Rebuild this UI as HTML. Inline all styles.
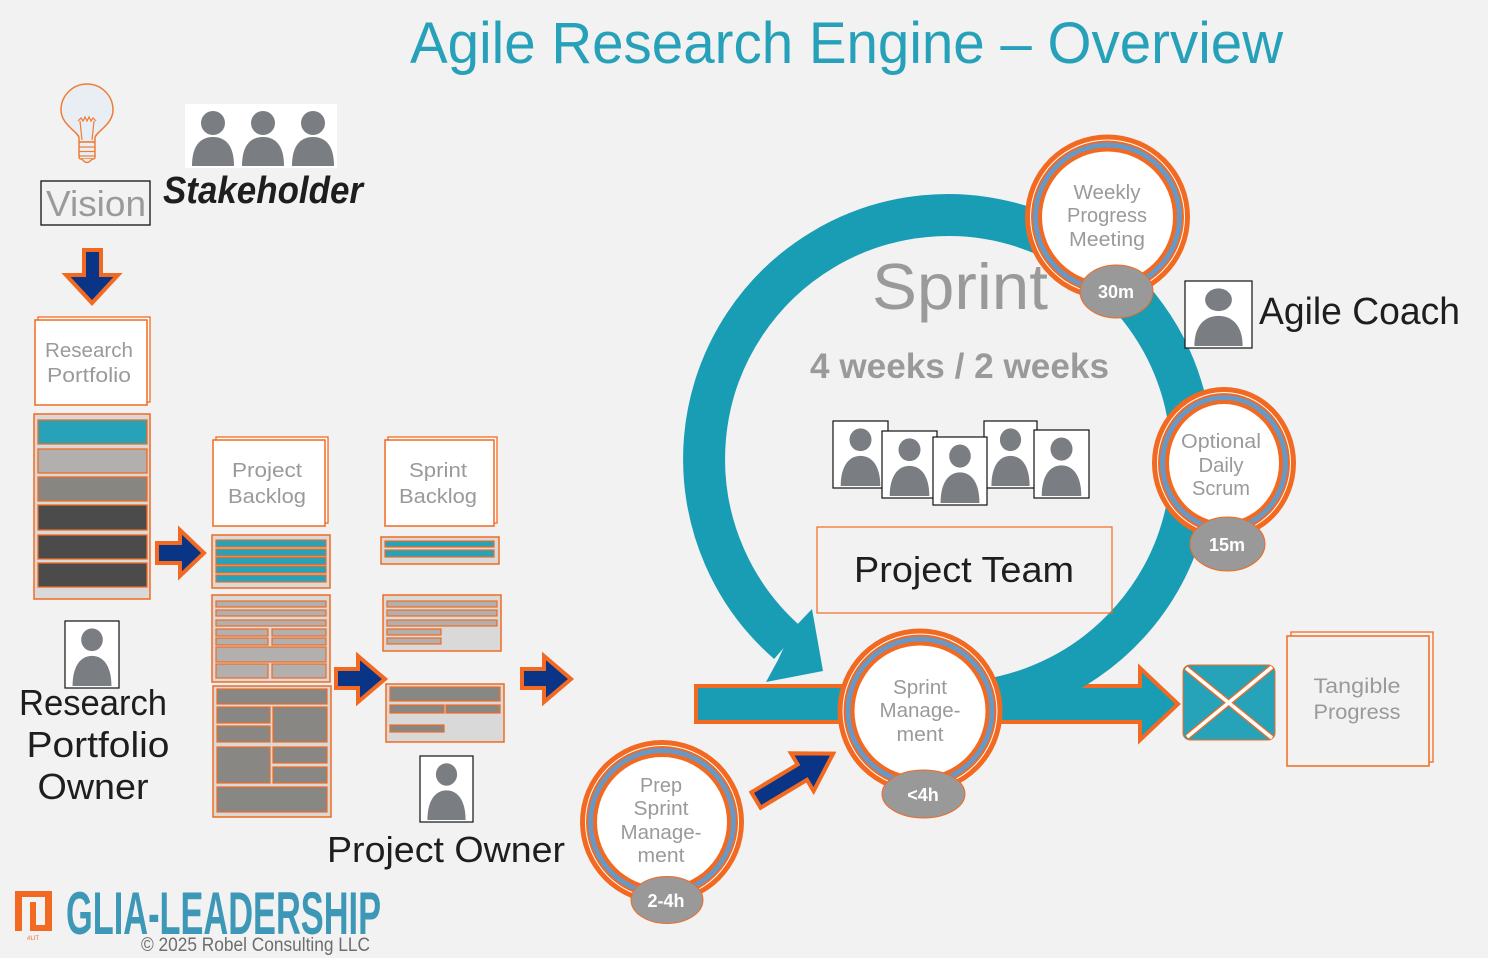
<!DOCTYPE html>
<html>
<head>
<meta charset="utf-8">
<style>
  html,body{margin:0;padding:0;background:#f2f2f2;}
  svg{display:block;}
  text{font-family:"Liberation Sans", sans-serif;}
</style>
</head>
<body>
<svg width="1488" height="958" viewBox="0 0 1488 958" xmlns="http://www.w3.org/2000/svg">
  <defs>
    <symbol id="pp" viewBox="0 0 100 100" preserveAspectRatio="none">
      <ellipse cx="50" cy="28" rx="20" ry="17" fill="#7a7d82"/>
      <path d="M14 97 C14 66 30 52 50 52 C70 52 86 66 86 97 Z" fill="#7a7d82"/>
    </symbol>
  </defs>

  <rect x="0" y="0" width="1488" height="958" fill="#f2f2f2"/>

  <!-- Title -->
  <text x="410" y="63" font-size="58" fill="#27a1b9" textLength="873" lengthAdjust="spacingAndGlyphs">Agile Research Engine – Overview</text>

  <!-- Lightbulb -->
  <path d="M79 142 L79 138 C79 132 61 125 61 110 A26 26 0 1 1 113 110 C113 125 95 132 95 138 L95 142 Z" fill="#e8eef4" stroke="#f07c35" stroke-width="1.5"/>
  <rect x="79" y="142" width="16" height="17" rx="2" fill="#e8eef4" stroke="#f07c35" stroke-width="1.5"/>
  <line x1="79" y1="147" x2="95" y2="147" stroke="#f07c35" stroke-width="1.2"/>
  <line x1="79" y1="151.5" x2="95" y2="151.5" stroke="#f07c35" stroke-width="1.2"/>
  <line x1="79" y1="156" x2="95" y2="156" stroke="#f07c35" stroke-width="1.2"/>
  <path d="M82 159 Q87 166 92 159" fill="#e8eef4" stroke="#f07c35" stroke-width="1.5"/>
  <polyline points="78,121 81,118 83,121 85,117 87,121 89,117 91,121 93,118 96,121" fill="none" stroke="#f07c35" stroke-width="1.2"/>
  <line x1="80" y1="121" x2="82" y2="140" stroke="#f07c35" stroke-width="1.2"/>
  <line x1="94" y1="121" x2="92" y2="140" stroke="#f07c35" stroke-width="1.2"/>

  <!-- Vision -->
  <rect x="41" y="181" width="109" height="44" fill="none" stroke="#111" stroke-width="1.3"/>
  <text x="96" y="216" font-size="36" fill="#9a9a9a" text-anchor="middle" textLength="100" lengthAdjust="spacingAndGlyphs">Vision</text>

  <!-- Stakeholder -->
  <rect x="185" y="104" width="152" height="64" fill="#ffffff"/>
  <g fill="#7a7d82">
    <circle cx="213" cy="123" r="12"/>
    <path d="M192 166 C192 146 200 137 213 137 C226 137 234 146 234 166 Z"/>
    <circle cx="263" cy="123" r="12"/>
    <path d="M242 166 C242 146 250 137 263 137 C276 137 284 146 284 166 Z"/>
    <circle cx="313" cy="123" r="12"/>
    <path d="M292 166 C292 146 300 137 313 137 C326 137 334 146 334 166 Z"/>
  </g>
  <text x="163" y="203" font-size="38" font-weight="bold" font-style="italic" fill="#1e1e1e" textLength="200" lengthAdjust="spacingAndGlyphs">Stakeholder</text>

  <!-- Down arrow -->
  <polygon points="84,250 101,250 101,275 118,275 92,303 66,275 84,275" fill="#0a3485" stroke="#f26a21" stroke-width="4"/>

  <!-- Research Portfolio box -->
  <rect x="38" y="317" width="112" height="85" fill="#ffffff" stroke="#f26a21" stroke-width="1.3"/>
  <rect x="35" y="320" width="112" height="85" fill="#ffffff" stroke="#f26a21" stroke-width="1.5"/>
  <text x="89" y="357" font-size="20" fill="#9a9a9a" text-anchor="middle" textLength="88" lengthAdjust="spacingAndGlyphs">Research</text>
  <text x="89" y="382" font-size="20" fill="#9a9a9a" text-anchor="middle" textLength="84" lengthAdjust="spacingAndGlyphs">Portfolio</text>

  <!-- Research Portfolio stack -->
  <rect x="34" y="414" width="116" height="185" fill="#d9d9d9" stroke="#f26a21" stroke-width="1.5"/>
  <g stroke="#f26a21" stroke-width="1.3">
    <rect x="38" y="420" width="109" height="24" fill="#26a3b8"/>
    <rect x="38" y="449" width="109" height="24" fill="#b1b0ae"/>
    <rect x="38" y="477" width="109" height="24" fill="#888681"/>
    <rect x="38" y="505" width="109" height="25" fill="#4b4b4b"/>
    <rect x="38" y="535" width="109" height="24" fill="#4b4b4b"/>
    <rect x="38" y="563" width="109" height="24" fill="#4b4b4b"/>
  </g>

  <!-- Arrows (navy) -->
  <g fill="#0a3485" stroke="#f26a21" stroke-width="4">
    <polygon points="157,543 180,543 180,530 204,553 180,576 180,563 157,563"/>
    <polygon points="336,669 358,669 358,656 385,679 358,702 358,688 336,688"/>
    <polygon points="522,669 544,669 544,656 571,679 544,702 544,688 522,688"/>
  </g>

  <!-- Research Portfolio Owner -->
  <rect x="65" y="621" width="54" height="67" fill="#ffffff" stroke="#111" stroke-width="1.2"/>
  <use href="#pp" x="65" y="621" width="54" height="67"/>
  <text x="93" y="715" font-size="36" fill="#1e1e1e" text-anchor="middle" textLength="148" lengthAdjust="spacingAndGlyphs">Research</text>
  <text x="98" y="757" font-size="36" fill="#1e1e1e" text-anchor="middle" textLength="143" lengthAdjust="spacingAndGlyphs">Portfolio</text>
  <text x="93" y="799" font-size="36" fill="#1e1e1e" text-anchor="middle" textLength="111" lengthAdjust="spacingAndGlyphs">Owner</text>

  <!-- Project Backlog -->
  <rect x="216" y="437" width="112" height="86" fill="#ffffff" stroke="#f26a21" stroke-width="1.3"/>
  <rect x="213" y="440" width="112" height="86" fill="#ffffff" stroke="#f26a21" stroke-width="1.5"/>
  <text x="267" y="477" font-size="20" fill="#9a9a9a" text-anchor="middle" textLength="70" lengthAdjust="spacingAndGlyphs">Project</text>
  <text x="267" y="503" font-size="20" fill="#9a9a9a" text-anchor="middle" textLength="78" lengthAdjust="spacingAndGlyphs">Backlog</text>

  <rect x="212" y="535" width="118" height="53" fill="#d9d9d9" stroke="#f26a21" stroke-width="1.5"/>
  <g fill="#26a3b8" stroke="#f26a21" stroke-width="1.2">
    <rect x="216" y="540" width="110" height="7"/>
    <rect x="216" y="549" width="110" height="7"/>
    <rect x="216" y="557.5" width="110" height="7"/>
    <rect x="216" y="566" width="110" height="7"/>
    <rect x="216" y="575" width="110" height="7"/>
  </g>

  <rect x="212" y="595" width="118" height="87" fill="#d9d9d9" stroke="#f26a21" stroke-width="1.5"/>
  <g fill="#b1b0ae" stroke="#f26a21" stroke-width="1.2">
    <rect x="216" y="601" width="110" height="6"/>
    <rect x="216" y="610" width="110" height="6"/>
    <rect x="216" y="620" width="110" height="6"/>
    <rect x="216" y="629" width="52" height="7"/>
    <rect x="272" y="629" width="54" height="7"/>
    <rect x="216" y="638" width="52" height="7"/>
    <rect x="272" y="638" width="54" height="7"/>
    <rect x="216" y="647" width="110" height="15"/>
    <rect x="216" y="664" width="52" height="14"/>
    <rect x="272" y="664" width="54" height="14"/>
  </g>

  <rect x="213" y="686" width="118" height="131" fill="#d9d9d9" stroke="#f26a21" stroke-width="1.5"/>
  <g fill="#898783" stroke="#f26a21" stroke-width="1.2">
    <rect x="217" y="689" width="110" height="15"/>
    <rect x="217" y="707" width="53" height="16"/>
    <rect x="273" y="707" width="54" height="35"/>
    <rect x="217" y="726" width="53" height="16"/>
    <rect x="217" y="747" width="53" height="36"/>
    <rect x="273" y="747" width="54" height="16"/>
    <rect x="273" y="767" width="54" height="16"/>
    <rect x="217" y="787" width="110" height="25"/>
  </g>

  <!-- Sprint Backlog -->
  <rect x="388" y="437" width="109" height="86" fill="#ffffff" stroke="#f26a21" stroke-width="1.3"/>
  <rect x="385" y="440" width="109" height="86" fill="#ffffff" stroke="#f26a21" stroke-width="1.5"/>
  <text x="438" y="477" font-size="20" fill="#9a9a9a" text-anchor="middle" textLength="58" lengthAdjust="spacingAndGlyphs">Sprint</text>
  <text x="438" y="503" font-size="20" fill="#9a9a9a" text-anchor="middle" textLength="78" lengthAdjust="spacingAndGlyphs">Backlog</text>

  <rect x="381" y="537" width="118" height="27" fill="#d9d9d9" stroke="#f26a21" stroke-width="1.5"/>
  <g fill="#26a3b8" stroke="#f26a21" stroke-width="1.2">
    <rect x="385" y="541" width="109" height="6"/>
    <rect x="385" y="550" width="109" height="7"/>
  </g>

  <rect x="383" y="595" width="118" height="56" fill="#d9d9d9" stroke="#f26a21" stroke-width="1.5"/>
  <g fill="#b1b0ae" stroke="#f26a21" stroke-width="1.2">
    <rect x="387" y="601" width="110" height="6"/>
    <rect x="387" y="610" width="110" height="6"/>
    <rect x="387" y="620" width="110" height="6"/>
    <rect x="387" y="629" width="54" height="6"/>
    <rect x="387" y="638" width="54" height="6"/>
  </g>

  <rect x="386" y="684" width="118" height="58" fill="#d9d9d9" stroke="#f26a21" stroke-width="1.5"/>
  <g fill="#898783" stroke="#f26a21" stroke-width="1.2">
    <rect x="390" y="687" width="110" height="14"/>
    <rect x="390" y="705" width="54" height="8"/>
    <rect x="446" y="705" width="54" height="8"/>
    <rect x="390" y="725" width="54" height="7"/>
  </g>

  <!-- Project Owner -->
  <rect x="420" y="756" width="53" height="66" fill="#ffffff" stroke="#111" stroke-width="1.2"/>
  <use href="#pp" x="420" y="756" width="53" height="66"/>
  <text x="327" y="862" font-size="36" fill="#1e1e1e" textLength="238" lengthAdjust="spacingAndGlyphs">Project Owner</text>

  <!-- Horizontal teal arrow -->
  <polygon points="696,686 1140,686 1140,668 1178,704 1140,740 1140,722 696,722" fill="#189db5" stroke="#f26a21" stroke-width="4" stroke-linejoin="miter"/>

  <!-- Sprint arc -->
  <path d="M926.7 702.1 A244 244 0 1 0 787.9 643.1" fill="none" stroke="#189db5" stroke-width="42"/>
  <polygon points="812,609 823,671 766,682 778,660 792,630" fill="#189db5"/>

  <!-- Sprint text -->
  <text x="872" y="309" font-size="65" fill="#9a9a9a" textLength="176" lengthAdjust="spacingAndGlyphs">Sprint</text>
  <text x="810" y="378" font-size="35" font-weight="bold" fill="#9a9a9a" textLength="299" lengthAdjust="spacingAndGlyphs">4 weeks / 2 weeks</text>

  <!-- Team -->
  <rect x="833" y="421" width="55" height="67" fill="#ffffff" stroke="#111" stroke-width="1.2"/>
  <use href="#pp" x="833" y="421" width="55" height="67"/>
  <rect x="882" y="431" width="55" height="67" fill="#ffffff" stroke="#111" stroke-width="1.2"/>
  <use href="#pp" x="882" y="431" width="55" height="67"/>
  <rect x="984" y="421" width="53" height="67" fill="#ffffff" stroke="#111" stroke-width="1.2"/>
  <use href="#pp" x="984" y="421" width="53" height="67"/>
  <rect x="933" y="437" width="54" height="68" fill="#ffffff" stroke="#111" stroke-width="1.2"/>
  <use href="#pp" x="933" y="437" width="54" height="68"/>
  <rect x="1034" y="430" width="55" height="68" fill="#ffffff" stroke="#111" stroke-width="1.2"/>
  <use href="#pp" x="1034" y="430" width="55" height="68"/>

  <!-- Project Team box -->
  <rect x="817" y="527" width="295" height="86" fill="none" stroke="#f26a21" stroke-width="1.2"/>
  <text x="964" y="582" font-size="36" fill="#1e1e1e" text-anchor="middle" textLength="220" lengthAdjust="spacingAndGlyphs">Project Team</text>

  <!-- Agile Coach -->
  <rect x="1185" y="281" width="67" height="67" fill="#ffffff" stroke="#111" stroke-width="1.2"/>
  <use href="#pp" x="1185" y="281" width="67" height="67"/>
  <text x="1259" y="324" font-size="38" fill="#1e1e1e" textLength="201" lengthAdjust="spacingAndGlyphs">Agile Coach</text>

  <!-- Weekly Progress Meeting circle -->
  <g>
    <circle cx="1107.5" cy="217" r="82.5" fill="#f26a21"/>
    <circle cx="1107.5" cy="217" r="77.5" fill="#ffffff"/>
    <circle cx="1107.5" cy="217" r="76.5" fill="#f26a21"/>
    <circle cx="1107.5" cy="217" r="74.5" fill="#6898c6"/>
    <circle cx="1107.5" cy="217" r="69.5" fill="#f26a21"/>
    <circle cx="1107.5" cy="217" r="65.5" fill="#ffffff"/>
    <text x="1107" y="199" font-size="20" fill="#9a9a9a" text-anchor="middle" textLength="67" lengthAdjust="spacingAndGlyphs">Weekly</text>
    <text x="1107" y="222" font-size="20" fill="#9a9a9a" text-anchor="middle" textLength="80" lengthAdjust="spacingAndGlyphs">Progress</text>
    <text x="1107" y="246" font-size="20" fill="#9a9a9a" text-anchor="middle" textLength="76" lengthAdjust="spacingAndGlyphs">Meeting</text>
    <ellipse cx="1116.5" cy="291.5" rx="36.5" ry="26.5" fill="#999999" stroke="#f26a21" stroke-width="1"/>
    <text x="1116" y="298" font-size="18" font-weight="bold" fill="#ffffff" text-anchor="middle">30m</text>
  </g>

  <!-- Optional Daily Scrum -->
  <g>
    <ellipse cx="1224" cy="463" rx="72" ry="76" fill="#f26a21"/>
    <ellipse cx="1224" cy="463" rx="67" ry="71" fill="#ffffff"/>
    <ellipse cx="1224" cy="463" rx="66" ry="70" fill="#f26a21"/>
    <ellipse cx="1224" cy="463" rx="64" ry="68" fill="#6898c6"/>
    <ellipse cx="1224" cy="463" rx="59" ry="63" fill="#f26a21"/>
    <ellipse cx="1224" cy="463" rx="55" ry="59" fill="#ffffff"/>
    <text x="1221" y="448" font-size="20" fill="#9a9a9a" text-anchor="middle" textLength="80" lengthAdjust="spacingAndGlyphs">Optional</text>
    <text x="1221" y="472" font-size="20" fill="#9a9a9a" text-anchor="middle" textLength="45" lengthAdjust="spacingAndGlyphs">Daily</text>
    <text x="1221" y="495" font-size="20" fill="#9a9a9a" text-anchor="middle" textLength="58" lengthAdjust="spacingAndGlyphs">Scrum</text>
    <ellipse cx="1227.5" cy="544" rx="37.5" ry="27" fill="#999999" stroke="#f26a21" stroke-width="1"/>
    <text x="1227" y="551" font-size="18" font-weight="bold" fill="#ffffff" text-anchor="middle">15m</text>
  </g>

  <!-- Sprint Management circle -->
  <g>
    <circle cx="920" cy="711" r="82.5" fill="#f26a21"/>
    <circle cx="920" cy="711" r="77.5" fill="#ffffff"/>
    <circle cx="920" cy="711" r="76.5" fill="#f26a21"/>
    <circle cx="920" cy="711" r="74.5" fill="#6898c6"/>
    <circle cx="920" cy="711" r="69.5" fill="#f26a21"/>
    <circle cx="920" cy="711" r="65.5" fill="#ffffff"/>
    <text x="920" y="694" font-size="20" fill="#9a9a9a" text-anchor="middle" textLength="54" lengthAdjust="spacingAndGlyphs">Sprint</text>
    <text x="920" y="717" font-size="20" fill="#9a9a9a" text-anchor="middle" textLength="81" lengthAdjust="spacingAndGlyphs">Manage-</text>
    <text x="920" y="741" font-size="20" fill="#9a9a9a" text-anchor="middle" textLength="47" lengthAdjust="spacingAndGlyphs">ment</text>
    <ellipse cx="923.5" cy="794" rx="41.5" ry="24" fill="#999999" stroke="#f26a21" stroke-width="1"/>
    <text x="923" y="801" font-size="18" font-weight="bold" fill="#ffffff" text-anchor="middle">&lt;4h</text>
  </g>

  <!-- Prep Sprint Management circle -->
  <g>
    <circle cx="662" cy="822" r="82" fill="#f26a21"/>
    <circle cx="662" cy="822" r="77" fill="#ffffff"/>
    <circle cx="662" cy="822" r="76" fill="#f26a21"/>
    <circle cx="662" cy="822" r="74" fill="#6898c6"/>
    <circle cx="662" cy="822" r="69" fill="#f26a21"/>
    <circle cx="662" cy="822" r="65" fill="#ffffff"/>
    <text x="661" y="792" font-size="20" fill="#9a9a9a" text-anchor="middle" textLength="42" lengthAdjust="spacingAndGlyphs">Prep</text>
    <text x="661" y="815" font-size="20" fill="#9a9a9a" text-anchor="middle" textLength="55" lengthAdjust="spacingAndGlyphs">Sprint</text>
    <text x="661" y="839" font-size="20" fill="#9a9a9a" text-anchor="middle" textLength="81" lengthAdjust="spacingAndGlyphs">Manage-</text>
    <text x="661" y="862" font-size="20" fill="#9a9a9a" text-anchor="middle" textLength="47" lengthAdjust="spacingAndGlyphs">ment</text>
    <ellipse cx="667" cy="900" rx="36" ry="23.5" fill="#999999" stroke="#f26a21" stroke-width="1"/>
    <text x="666" y="907" font-size="18" font-weight="bold" fill="#ffffff" text-anchor="middle">2-4h</text>
  </g>

  <!-- Navy diagonal arrow -->
  <g transform="translate(756,800) rotate(-31)">
    <polygon points="0,-9 54,-9 54,-22 90,0 54,22 54,9 0,9" fill="#0a3485" stroke="#f26a21" stroke-width="4"/>
  </g>

  <!-- X box -->
  <rect x="1183" y="665" width="92" height="75" rx="7" fill="#26a3b8" stroke="#f26a21" stroke-width="1"/>
  <line x1="1186" y1="668" x2="1272" y2="738" stroke="#f26a21" stroke-width="6"/>
  <line x1="1272" y1="667" x2="1187" y2="737" stroke="#f26a21" stroke-width="6"/>
  <line x1="1186" y1="668" x2="1272" y2="738" stroke="#ffffff" stroke-width="3.5"/>
  <line x1="1272" y1="667" x2="1187" y2="737" stroke="#ffffff" stroke-width="3.5"/>

  <!-- Tangible Progress -->
  <rect x="1291" y="632" width="142" height="130" fill="#f4f4f4" stroke="#f26a21" stroke-width="1.3"/>
  <rect x="1287" y="636" width="142" height="130" fill="#f2f2f2" stroke="#f26a21" stroke-width="1.5"/>
  <text x="1357" y="693" font-size="21" fill="#9a9a9a" text-anchor="middle" textLength="87" lengthAdjust="spacingAndGlyphs">Tangible</text>
  <text x="1357" y="719" font-size="21" fill="#9a9a9a" text-anchor="middle" textLength="87" lengthAdjust="spacingAndGlyphs">Progress</text>

  <!-- Logo -->
  <g fill="#f26a21">
    <rect x="15" y="891" width="7" height="40"/>
    <rect x="15" y="891" width="37" height="6"/>
    <rect x="45" y="891" width="7" height="40"/>
    <rect x="30" y="902" width="6" height="27"/>
    <rect x="30" y="925" width="15" height="6"/>
  </g>
  <text x="33" y="940" font-size="6" fill="#f26a21" text-anchor="middle">#LIT</text>
  <text x="66" y="934" font-size="60" font-weight="bold" fill="#3d97b6" textLength="315" lengthAdjust="spacingAndGlyphs">GLIA-LEADERSHIP</text>
  <text x="141" y="951" font-size="19" fill="#6d6d6d" textLength="229" lengthAdjust="spacingAndGlyphs">© 2025 Robel Consulting LLC</text>
</svg>
</body>
</html>
